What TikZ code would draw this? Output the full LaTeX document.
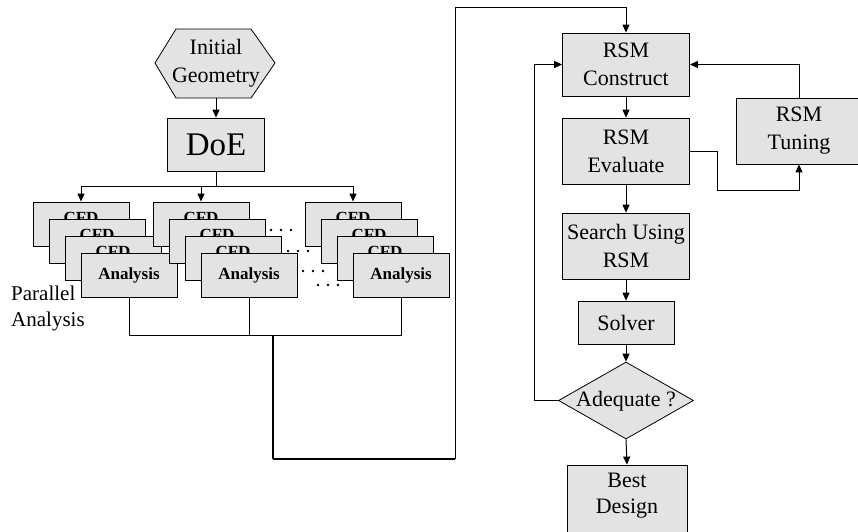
\documentclass[tikz,border=0pt]{standalone}
\usepackage{fontspec}
\setmainfont{Liberation Serif}
\usetikzlibrary{shapes.geometric,arrows.meta}
\begin{document}
\begin{tikzpicture}[x=1pt,y=-1pt,
  box/.style={draw, line width=0.8pt, fill=gray!22, inner sep=0pt, align=center, font=\fontsize{22}{28}\selectfont},
  cfdbox/.style={draw, line width=0.8pt, fill=gray!22, inner sep=0pt, minimum width=96pt, minimum height=44pt, font=\bfseries\fontsize{17}{20}\selectfont},
  cfdtxt/.style={inner sep=0pt, anchor=base, font=\bfseries\fontsize{17}{20}\selectfont},
  txt/.style={inner sep=0pt, align=center, font=\fontsize{22}{28}\selectfont},
  ln/.style={line width=1pt},
  arr/.style={-{Triangle[length=8pt,width=7pt]}}]
\useasboundingbox (0,0) rectangle (858,531);
\clip (0,0) rectangle (858,531);

% Initial geometry hexagon
\filldraw[line width=0.8pt, fill=gray!22] (155,63) -- (176,29) -- (251,29) -- (275,63) -- (251,98) -- (176,98) -- cycle;
\node[txt, minimum width=120pt, minimum height=69pt] (geo) at (216,63.5) {Initial\\Geometry};

% DoE
\node[box, minimum width=97pt, minimum height=53pt, font=\fontsize{33}{38}\selectfont] (doe) at (216,144.5) {DoE};
\draw[ln, arr] (geo.south) -- (doe.north);

% stacks of CFD analysis boxes
\foreach \s/\x in {a/81,b/201,c/353} {
  \foreach \i in {0,1,2} {
    \node[cfdbox] (\s\i) at ({\x+16*\i},{224+17*\i}) {};
    \node[cfdtxt] (\s t\i) at ({\x+16*\i},{223+17*\i}) {CFD};
  }
  \node[cfdbox] (\s3) at ({\x+48},275) {Analysis};
}

% branching from DoE
\coordinate (br) at (216,186);
\draw[ln] (doe.south) -- (br);
\draw[ln] (a0.north |- br) -- (c0.north |- br);
\draw[ln, arr] (a0.north |- br) -- (a0.north);
\draw[ln, arr] (b0.north |- br) -- (b0.north);
\draw[ln, arr] (c0.north |- br) -- (c0.north);

% dots between stacks
\foreach \y/\xa in {230/271, 251/288, 271/303, 285/318} {
  \foreach \k in {0,1,2} {
    \fill ({\xa+10*\k},\y) circle (1.3pt);
  }
}

% Parallel Analysis label
\node[inner sep=0pt, anchor=west, align=left, font=\fontsize{21}{26}\selectfont] (par) at (11,308) {Parallel\\Analysis};

% collector
\coordinate (cy) at (273,335);
\coordinate (j1) at (273,459);
\coordinate (j2) at (455,459);
\coordinate (j3) at (455,7);
\draw[ln] (a3.south) -- (a3.south |- cy) -- (c3.south |- cy) -- (c3.south);
\draw[ln] (b3.south) -- (b3.south |- cy);
\draw[line width=2.2pt] (cy) -- (j1);

% right column
\node[box, minimum width=127pt, minimum height=63pt] (con) at (626,64.5) {RSM\\Construct};
\node[box, minimum width=127pt, minimum height=66pt] (eva) at (626,151) {RSM\\Evaluate};
\node[box, minimum width=127pt, minimum height=66pt] (sea) at (626,246) {Search Using\\RSM};
\node[box, minimum width=96pt, minimum height=43pt] (sol) at (626,322.5) {Solver};
\node[draw, line width=0.8pt, fill=gray!22, diamond, inner sep=0pt, minimum width=135pt, minimum height=77pt] (adq) at (626,400.5) {};
\node[txt] (adqt) at (626,401) {Adequate ?};
\node[box, minimum width=120pt, minimum height=76pt] (best) at (627,503) {};
\node[txt, font=\fontsize{22}{26}\selectfont] (bestt) at (627,496) {Best\\Design};
\node[box, minimum width=126pt, minimum height=66pt] (tun) at (799,131) {RSM\\Tuning};

% collector to RSM construct
\draw[line width=1.6pt] (j1) -- (j2);
\draw[ln, arr] (j2) -- (j3) -| (con.north);

% column arrows
\draw[ln, arr] (con.south) -- (eva.north);
\draw[ln, arr] (eva.south) -- (sea.north);
\draw[ln, arr] (sea.south) -- (sol.north);
\draw[ln, arr] (sol.south) -- (adq.north);
\draw[ln, arr] (adq.south) -- (best.north);

% feedback loops
\draw[ln, arr] (adq.west) -- ++(-24,0) |- (con.west);
\draw[ln, arr] (tun.north) |- (con.east);
\draw[ln, arr] (eva.east) -- ++(28,0) -- ++(0,39) -| (tun.south);
\end{tikzpicture}
\end{document}
